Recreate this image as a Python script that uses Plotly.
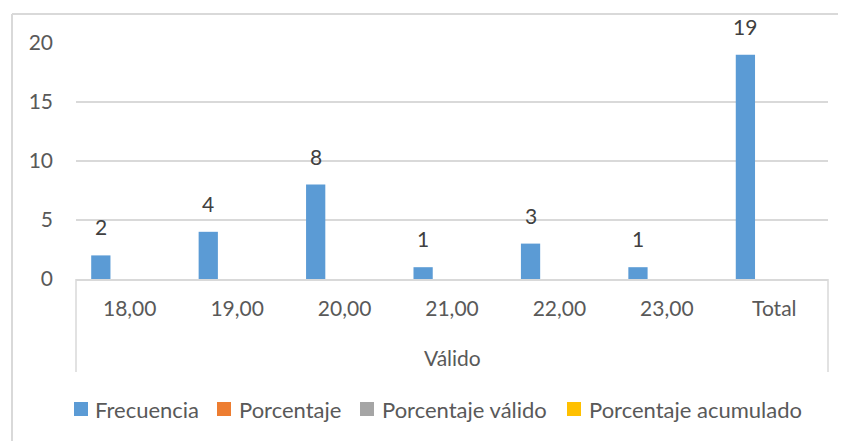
import plotly.graph_objects as go

categories = ["18,00", "19,00", "20,00", "21,00", "22,00", "23,00", "Total"]
frecuencia = [2, 4, 8, 1, 3, 1, 19]
porcentaje = [0, 0, 0, 0, 0, 0, 0]
porcentaje_valido = [0, 0, 0, 0, 0, 0, 0]
porcentaje_acumulado = [0, 0, 0, 0, 0, 0, 0]
series_names = ["Frecuencia", "Porcentaje", "Porcentaje válido", "Porcentaje acumulado"]
series_colors = ["#5b9bd5", "#ed7d31", "#a5a5a5", "#ffc000"]
group_label = "Válido"
y_ticks = [0, 5, 10, 15, 20]

# page body has an 8px margin; work in reference pixel coords and shift
OFF = 8
W, H = 846 - OFF, 441 - OFF
L, R, T, B = 76, 828, 43, 279  # reference pixel coords of the plot area
FONT = "Lato, Carlito, Calibri, sans-serif"
TXT = "#595959"
BARGAP = 0.283

def py(ypix):
    return (B - ypix) / (B - T)

def px(xpix):
    return (xpix - L) / (R - L)

fig = go.Figure()
for name, vals, col in zip(series_names,
                           [frecuencia, porcentaje, porcentaje_valido, porcentaje_acumulado],
                           series_colors):
    fig.add_bar(x=categories, y=vals, name=name, marker_color=col, marker_line_width=0,
                showlegend=False)

bar_w = (R - L) / len(categories) * (1 - BARGAP) / len(series_names)
annotations = []
for c, v in zip(categories, frecuencia):
    annotations.append(dict(x=c, y=v, xref="x", yref="y", text=str(v), showarrow=False,
                            xshift=-1.5 * bar_w, yshift=14, yanchor="bottom",
                            font=dict(family=FONT, size=21, color="#404040")))

annotations.append(dict(text=group_label, xref="paper", yref="paper", x=0.5, y=py(357),
                        showarrow=False, font=dict(family=FONT, size=21, color=TXT),
                        xanchor="center", yanchor="middle"))

shapes = [
    dict(type="line", xref="paper", yref="paper", x0=px(12), x1=px(850), y0=py(14), y1=py(14),
         line=dict(color="#d9d9d9", width=2)),
    dict(type="line", xref="paper", yref="paper", x0=px(12), x1=px(12), y0=py(14), y1=py(445),
         line=dict(color="#d9d9d9", width=2)),
    dict(type="line", xref="paper", yref="paper", x0=0, x1=0, y0=0, y1=py(372),
         line=dict(color="#d9d9d9", width=1.5)),
    dict(type="line", xref="paper", yref="paper", x0=1, x1=1, y0=0, y1=py(372),
         line=dict(color="#d9d9d9", width=1.5)),
]

# manual legend (Excel style: square close to text)
legend_sq_x = [74, 217, 360, 567]
legend_txt_x = [93, 237, 380, 587]
LEG_Y0, LEG_Y1 = 402, 416
for name, col, sx, tx in zip(series_names, series_colors, legend_sq_x, legend_txt_x):
    shapes.append(dict(type="rect", xref="paper", yref="paper", x0=px(sx), x1=px(sx + 14),
                       y0=py(LEG_Y1), y1=py(LEG_Y0), fillcolor=col, line=dict(width=0)))
    annotations.append(dict(text=name, xref="paper", yref="paper", x=px(tx), y=py(409.5),
                            xanchor="left", yanchor="middle", showarrow=False,
                            font=dict(family=FONT, size=22, color=TXT)))

fig.update_layout(
    width=W, height=H,
    margin=dict(l=L - OFF, r=W - (R - OFF), t=T - OFF, b=H - (B - OFF)),
    paper_bgcolor="white", plot_bgcolor="white",
    barmode="group", bargap=BARGAP, bargroupgap=0,
    font=dict(family=FONT, size=21, color=TXT),
    shapes=shapes,
    annotations=annotations,
    showlegend=False,
    xaxis=dict(showline=True, linecolor="#d9d9d9", linewidth=1.5, ticks="", showgrid=False,
               tickfont=dict(family=FONT, size=21, color=TXT), ticklabelstandoff=10),
    yaxis=dict(range=[0, 20], tickvals=y_ticks, showgrid=True, gridcolor="#d9d9d9", gridwidth=1.5,
               zeroline=False, showline=False, ticks="",
               tickfont=dict(family=FONT, size=21, color=TXT), ticklabelstandoff=22),
)

fig.write_html("out.html")
